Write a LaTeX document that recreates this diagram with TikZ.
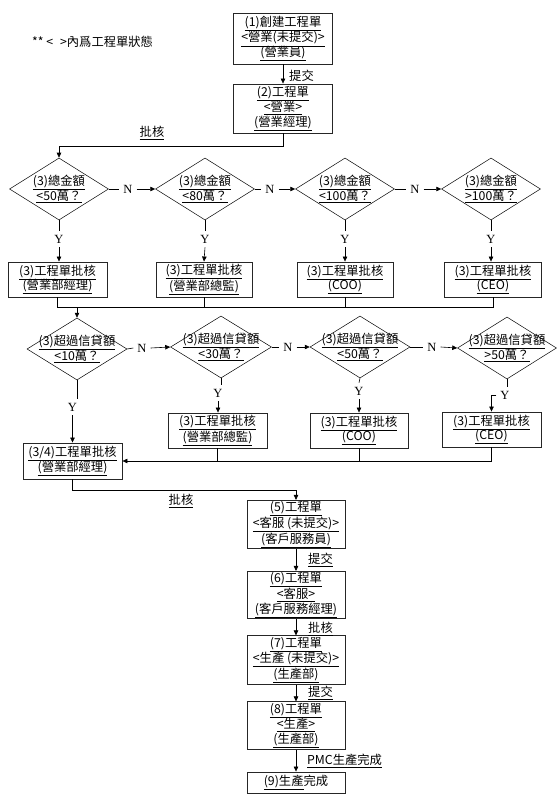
\documentclass[tikz,border=0pt]{standalone}
\usepackage{fontspec}
\setmainfont{Noto Sans CJK TC}
\newfontfamily\latinserif{Liberation Serif}
\usetikzlibrary{arrows.meta,shapes.geometric}
\newcommand{\undl}[1]{\underline{#1}}

\begin{document}
\begin{tikzpicture}[x=1pt, y=-1pt,
  box/.style={draw=black!85, line width=0.9pt, align=center, inner sep=1pt, minimum width=99pt, font=\fontsize{12.3}{14.8}\selectfont},
  dia/.style={draw, diamond, inner sep=0pt, minimum width=99pt, minimum height=62pt, line width=0.5pt},
  dtext/.style={align=center, inner sep=0pt, font=\fontsize{12.3}{14.8}\selectfont},
  flow/.style={-{Triangle[length=5pt,width=4.5pt]}, line width=0.6pt},
  link/.style={line width=0.6pt},
  lab/.style={inner sep=1pt, font=\fontsize{12.3}{14}\selectfont},
  yn/.style={inner sep=4pt, font=\latinserif\fontsize{12.5}{12}\selectfont}
]
\useasboundingbox (0,0) rectangle (557,805);

\node[lab, anchor=west] (note) at (31,42) {** <\;\;>內爲工程單狀態};

% order raised by sales
\node[box, minimum height=51pt] (b1) at (283,38.5) {\undl{(1)創建工程單}\\\undl{<營業(未提交)>}\\\undl{(營業員)}};
\node[box, minimum height=49pt] (b2) at (283,108.5) {\undl{(2)工程單}\\\undl{<營業>}\\\undl{(營業經理)}};
\node[lab, anchor=west] (s1) at (288,76) {提交};
\node[lab] (k1) at (152,133) {\undl{批核}};

% amount check
\node[dia, label={[dtext]center:{\undl{(3)總金額}\\\undl{<50萬？}}}] (d1) at (59,189) {};
\node[dia, label={[dtext]center:{\undl{(3)總金額}\\\undl{<80萬？}}}] (d2) at (205,189) {};
\node[dia, label={[dtext]center:{\undl{(3)總金額}\\\undl{<100萬？}}}] (d3) at (345,189) {};
\node[dia, label={[dtext]center:{\undl{(3)總金額}\\\undl{>100萬？}}}] (d4) at (491,189) {};

\node[yn] (n1) at (128,189) {N};
\node[yn] (n2) at (270,189) {N};
\node[yn] (n3) at (415,189) {N};
\node[yn] (y1) at (59,239) {Y};
\node[yn] (y2) at (205,239) {Y};
\node[yn] (y3) at (345,239) {Y};
\node[yn] (y4) at (491,239) {Y};

\node[box, minimum height=35pt] (b3a) at (57.5,279.5) {\undl{(3)工程單批核}\\\undl{(營業部經理)}};
\node[box, minimum height=35pt, minimum width=96pt] (b3b) at (204,279.5) {\undl{(3)工程單批核}\\\undl{(營業部總監)}};
\node[box, minimum height=35pt, minimum width=96pt] (b3c) at (345,279.5) {\undl{(3)工程單批核}\\\undl{(COO)}};
\node[box, minimum height=35pt, minimum width=97pt] (b3d) at (493,279.5) {\undl{(3)工程單批核}\\\undl{(CEO)}};

% credit check
\node[dia, minimum width=100pt, label={[dtext]center:{\undl{(3)超過信貸額}\\\undl{<10萬？}}}] (d5) at (77,349) {};
\node[dia, minimum width=101pt, label={[dtext]center:{\undl{(3)超過信貸額}\\\undl{<30萬？}}}] (d6) at (221,347) {};
\node[dia, minimum width=100pt, label={[dtext]center:{\undl{(3)超過信貸額}\\\undl{<50萬？}}}] (d7) at (360,347) {};
\node[dia, label={[dtext]center:{\undl{(3)超過信貸額}\\\undl{>50萬？}}}] (d8) at (507,348) {};

\node[yn] (n4) at (142,348) {N};
\node[yn] (n5) at (288,347) {N};
\node[yn] (n6) at (432,347) {N};
\node[yn] (y5) at (72.5,407) {Y};
\node[yn] (y6) at (218,393) {Y};
\node[yn] (y7) at (359,391) {Y};
\node[yn] (y8) at (505,395) {Y};

\node[box, minimum height=35pt] (b3e) at (217.5,430.5) {\undl{(3)工程單批核}\\\undl{(營業部總監)}};
\node[box, minimum height=35pt, minimum width=98pt] (b3f) at (359,430.5) {\undl{(3)工程單批核}\\\undl{(COO)}};
\node[box, minimum height=35pt] (b3g) at (491.5,429.5) {\undl{(3)工程單批核}\\\undl{(CEO)}};
\node[box, minimum height=36pt] (b34) at (72.5,461) {\undl{(3/4)工程單批核}\\\undl{(營業部經理)}};

% customer service and production
\node[lab] (k2) at (181,501) {\undl{批核}};
\node[box, minimum height=47pt, minimum width=98pt] (b5) at (296,524.5) {\undl{(5)工程單}\\\undl{<客服 (未提交)>}\\\undl{(客戶服務員)}};
\node[box, minimum height=46pt, minimum width=98pt] (b6) at (296,595) {\undl{(6)工程單}\\\undl{<客服>}\\\undl{(客戶服務經理)}};
\node[box, minimum height=46pt, minimum width=98pt] (b7) at (296,660) {\undl{(7)工程單}\\\undl{<生產 (未提交)>}\\\undl{(生產部)}};
\node[box, minimum height=45pt, minimum width=98pt] (b8) at (296,725.5) {\undl{(8)工程單}\\\undl{<生產>}\\\undl{(生產部)}};
\node[box, minimum height=21pt, minimum width=98pt] (b9) at (296,782.5) {\undl{(9)生產}完成};

\node[lab, anchor=west] (s2) at (307,560) {\undl{提交}};
\node[lab, anchor=west] (k3) at (307,629) {\undl{批核}};
\node[lab, anchor=west] (s3) at (307,693) {\undl{提交}};
\node[lab, anchor=west] (pmc) at (306,761) {\undl{PMC生產完成}};

% connectors
\coordinate (turn1) at (0,146);
\coordinate (bus1) at (0,307);
\coordinate (turn2) at (0,490);

\draw[flow] (b1) -- (b2);
\draw[flow] (b2.south) -- (b2.south |- turn1) -| (d1.north);

\draw[link] (d1.east) -- (n1.west); \draw[flow] (n1.east) -- (d2.west);
\draw[link] (d2.east) -- (n2.west); \draw[flow] (n2.east) -- (d3.west);
\draw[link] (d3.east) -- (n3.west); \draw[flow] (n3.east) -- (d4.west);
\draw[link] (d1.south) -- (y1.north); \draw[flow] (y1.south) -- (y1.south |- b3a.north);
\draw[link] (d2.south) -- (y2.north); \draw[flow] (y2.south) -- (b3b.north);
\draw[link] (d3.south) -- (y3.north); \draw[flow] (y3.south) -- (b3c.north);
\draw[link] (d4.south) -- (y4.north); \draw[flow] (y4.south) -- (y4.south |- b3d.north);

\draw[link] (b3a.south) |- (bus1 -| b3d.south) -- (b3d.south);
\draw[link] (b3b.south) -- (bus1 -| b3b.south);
\draw[link] (b3c.south) -- (bus1 -| b3c.south);
\draw[flow] (bus1 -| d5.north) -- (d5.north);

\draw[link] (d5.east) -- (n4.west); \draw[flow] (n4.east) -- (d6.west);
\draw[link] (d6.east) -- (n5.west); \draw[flow] (n5.east) -- (d7.west);
\draw[link] (d7.east) -- (n6.west); \draw[flow] (n6.east) -- (d8.west);
\draw[link] (d5.south) -- (d5.south |- y5.north); \draw[flow] (y5.south) -- (b34.north);
\draw[link] (d6.south) -- (d6.south |- y6.north); \draw[flow] (y6.south) -- (y6.south |- b3e.north);
\draw[link] (d7.south) -- (y7.north); \draw[flow] (y7.south) -- (b3f.north);
\draw[link] (d8.south) -- (d8.south |- y8.north); \draw[flow] (y8.west) -| (b3g.north);

\draw[flow] (b3g.south) |- (b34.east);
\draw[link] (b3e.south) -- (b3e.south |- b34.east);
\draw[link] (b3f.south) -- (b3f.south |- b34.east);

\draw[flow] (b34.south) -- (b34.south |- turn2) -| (b5.north);
\draw[flow] (b5) -- (b6);
\draw[flow] (b6) -- (b7);
\draw[flow] (b7) -- (b8);
\draw[flow] (b8) -- (b9);
\end{tikzpicture}
\end{document}
